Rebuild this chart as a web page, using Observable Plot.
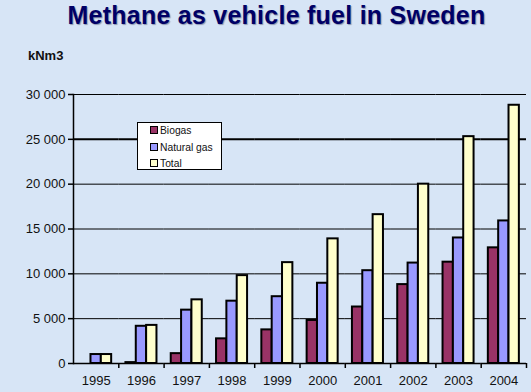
<!DOCTYPE html>
<html><head><meta charset="utf-8">
<script src="https://cdn.jsdelivr.net/npm/d3@7"></script>
<script src="https://cdn.jsdelivr.net/npm/@observablehq/plot@0.6"></script>
<style>
body{margin:0;background:#d7e5f6;font-family:"Liberation Sans",Arial,sans-serif;}
#wrap{position:relative;width:531px;height:392px;overflow:hidden;background:#d7e5f6;}
#chart{position:absolute;left:0;top:0;}
#title{position:absolute;left:0;width:553px;text-align:center;top:3px;font-size:25px;font-weight:bold;color:#000066;line-height:25px;letter-spacing:0.25px;text-shadow:1px 1px 1px rgba(0,0,40,0.35);white-space:nowrap;}
#unit{position:absolute;left:28px;top:49px;font-size:13px;font-weight:bold;line-height:13px;color:#111;}
#legend{position:absolute;left:137px;top:122px;width:85px;height:48px;background:#fff;border:1px solid #000;box-sizing:border-box;font-size:10.3px;color:#111;}
.item{position:absolute;left:12px;height:12px;line-height:12px;white-space:nowrap;}
.sw{display:inline-block;width:6px;height:6px;border:1px solid #000;vertical-align:middle;margin-right:2px;position:relative;top:-1px;}
</style></head>
<body><div id="wrap">
<div id="chart"></div>
<div id="title">Methane as vehicle fuel in Sweden</div>
<div id="unit">kNm3</div>
<div id="legend"></div>
</div>
<script>
const years = [1995, 1996, 1997, 1998, 1999, 2000, 2001, 2002, 2003, 2004];
const biogas = [0, 100, 1100, 2750, 3750, 4800, 6300, 8800, 11300, 12900];
const naturalGas = [1000, 4150, 5950, 6950, 7450, 8950, 10350, 11200, 14000, 15900];
const total = [1000, 4250, 7100, 9800, 11250, 13900, 16600, 20000, 25300, 28800];
const seriesNames = ["Biogas", "Natural gas", "Total"];
const seriesColors = ["#993366", "#9999ff", "#ffffcc"];
const yTicks = [0, 5000, 10000, 15000, 20000, 25000, 30000];

const seriesValues = [biogas, naturalGas, total];
const data = years.flatMap((yr, i) => seriesNames.map((s, k) => ({year: String(yr), series: s, value: seriesValues[k][i]})));
const fmt = d3.formatLocale({thousands: " ", grouping: [3], decimal: ".", currency: ["", ""]}).format(",");

const W = 531, H = 392, ML = 73, MR = 5;
const step = (W - ML - MR) / years.length;

const chart = Plot.plot({
  width: W, height: H,
  marginTop: 94, marginBottom: 29, marginLeft: ML, marginRight: MR,
  style: {background: "transparent", fontFamily: "'Liberation Sans', Arial, sans-serif", fontSize: "13px", color: "#111"},
  fx: {domain: years.map(String), padding: 0, axis: null, round: false},
  x: {domain: seriesNames, paddingInner: 0, paddingOuter: 0.69, axis: null, round: false},
  y: {domain: [0, 30000], axis: null},
  color: {domain: seriesNames, range: seriesColors},
  marks: [
    Plot.gridY(yTicks.filter(d => d > 0), {stroke: "#000", strokeOpacity: 1, strokeWidth: d => d === 25000 ? 2 : 1}),
    Plot.barY(data, {fx: "year", x: "series", y: "value", fill: "series", stroke: "#000", strokeWidth: 2}),
    Plot.ruleY([0], {stroke: "#000", strokeWidth: 1.5}),
    Plot.frame({anchor: "left", facetAnchor: "left", stroke: "#000", strokeWidth: 1.5}),
    Plot.axisY(yTicks, {tickSize: 5, tickPadding: 3, tickFormat: fmt, stroke: "#000", strokeWidth: 1.5, fontSize: 13, label: null}),
    Plot.axisFx({anchor: "bottom", tickSize: 0, tickPadding: 12, fontSize: 13, label: null}),
    Plot.axisFx({anchor: "bottom", tickSize: 5, fill: "none", dx: step / 2, stroke: "#000", strokeWidth: 1.5, label: null})
  ]
});
document.getElementById("chart").appendChild(chart);

const legend = document.getElementById("legend");
seriesNames.forEach((s, k) => {
  const it = document.createElement("div");
  it.className = "item";
  it.style.top = (2 + k * 16.5) + "px";
  const sw = document.createElement("span");
  sw.className = "sw";
  sw.style.background = seriesColors[k];
  if (k === 2) sw.style.borderWidth = "1.5px";
  it.appendChild(sw);
  it.appendChild(document.createTextNode(s));
  legend.appendChild(it);
});
</script>
</body></html>
